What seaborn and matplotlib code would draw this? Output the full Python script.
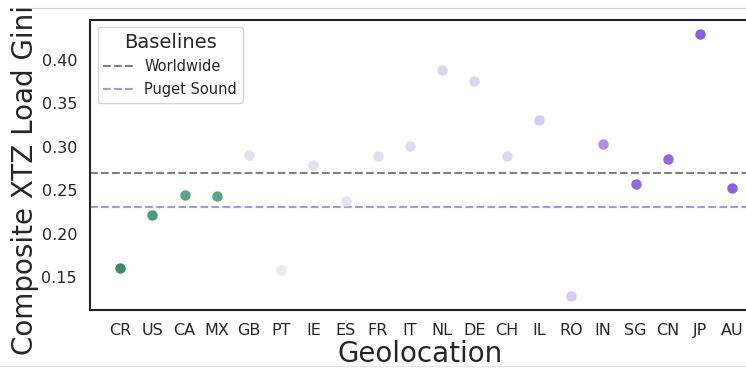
import matplotlib
matplotlib.use('Agg')
import matplotlib.pyplot as plt
import pandas as pd
import seaborn as sns
from matplotlib.lines import Line2D

# values
geos = ["CR", "US", "CA", "MX", "GB", "PT", "IE", "ES", "FR", "IT",
        "NL", "DE", "CH", "IL", "RO", "IN", "SG", "CN", "JP", "AU"]
gini = [0.160, 0.221, 0.244, 0.243, 0.291, 0.158, 0.279, 0.237, 0.289, 0.301,
        0.388, 0.376, 0.289, 0.331, 0.128, 0.303, 0.257, 0.286, 0.430, 0.252]
colors = ["#3b8d67", "#4c9c7c", "#58a687", "#5aa68a", "#e4e0f1", "#ebe8f4",
          "#e4dff2", "#e6e1f3", "#e2ddf2", "#e0daf2", "#dcd5f1", "#dbd4f1",
          "#ddd6f1", "#d4caf0", "#d6cbf1", "#ab8fec", "#9168e3", "#9068e3",
          "#8a60e0", "#8c62e1"]
worldwide = 0.270
puget_sound = 0.231

df = pd.DataFrame({"Geolocation": geos, "Gini": gini})

sns.set_theme(style="white")
fig = plt.figure(figsize=(7.46, 3.70), dpi=100)
ax = fig.add_axes([0.121, 0.162, 0.885, 0.784])

sns.stripplot(data=df, x="Geolocation", y="Gini", hue="Geolocation",
              palette=colors, jitter=False, size=7.5, legend=False, ax=ax)

ax.axhline(worldwide, color="grey", linestyle="--", linewidth=1.5, label="Worldwide")
ax.axhline(puget_sound, color="#9a9af5", linestyle="--", linewidth=1.5, label="Puget Sound")

ax.set_ylim(0.112, 0.446)
ax.set_xlim(-0.93, 19.57)
ax.set_yticks([0.15, 0.20, 0.25, 0.30, 0.35, 0.40])
ax.tick_params(labelsize=11.5)
ax.set_xlabel("Geolocation", fontsize=20, labelpad=1)
ax.set_ylabel("Composite XTZ Load Gini", fontsize=20)
# the label sits a little low and runs off the top, as in the source
ax.yaxis.set_label_coords(-0.077, 0.45)

for s in ["left", "bottom", "top"]:
    ax.spines[s].set_color("#222222")
    ax.spines[s].set_linewidth(1.5)
ax.spines["right"].set_visible(False)

leg = ax.legend(title="Baselines", loc="upper left", fontsize=10.5,
                title_fontsize=14, frameon=True)

# thin page rules above and below the chart
fig.add_artist(Line2D([0.04, 1.0], [0.978, 0.978], color="#cccccc", linewidth=0.8))
fig.add_artist(Line2D([0.0, 1.0], [0.01, 0.01], color="#e6e6e6", linewidth=0.8))

fig.savefig("out.png", dpi=100)
